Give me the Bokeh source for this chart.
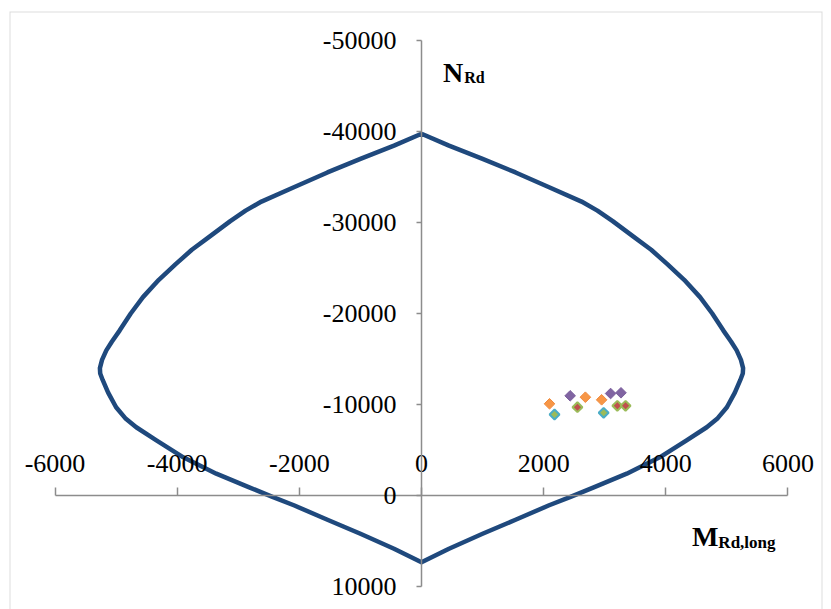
from bokeh.plotting import figure
from bokeh.models import Range1d, FixedTicker, Label, BoxAnnotation
from bokeh.embed import file_html
from bokeh.resources import INLINE
import numpy as np

# Interaction envelope (M_Rd,long, N_Rd), closed loop
env_m = [0, 450, 1000, 1540, 2080, 2620, 2880, 3130, 3470, 3760, 4020, 4300, 4560, 4760, 4940, 5070, 5160,
         5230, 5265, 5260, 5220, 5130, 5000, 4850, 4670, 4340, 3900, 3360, 2820, 2440, 2080, 1540,
         1000, 450, 0,
         -450, -1000, -1540, -2080, -2440, -2820, -3360, -3900, -4340, -4670, -4850, -5000, -5130,
         -5220, -5260, -5265, -5230, -5160, -5070, -4940, -4760, -4560, -4300, -4020, -3760, -3470,
         -3130, -2880, -2620, -2080, -1540, -1000, -450, 0]
env_n = [-39750, -38450, -37000, -35500, -33900, -32300, -31300, -30150, -28450, -27000, -25450, -23700, -21800,
         -20000, -18150, -16900, -15950, -14900, -14000, -13400, -12700, -11300, -9700, -8500, -7500,
         -6050, -4200, -2400, -900, 150, 1100, 2670, 4200, 5850, 7330,
         5850, 4200, 2670, 1100, 150, -900, -2400, -4200, -6050, -7500, -8500, -9700, -11300,
         -12700, -13400, -14000, -14900, -15950, -16900, -18150, -20000, -21800, -23700, -25450,
         -27000, -28450, -30150, -31300, -32300, -33900, -35500, -37000, -38450, -39750]

# Load points
orange_m = [2096, 2683, 2949]
orange_n = [-10077, -10802, -10516]
purple_m = [2434, 3096, 3266]
purple_n = [-10956, -11209, -11286]
aqua_m = [2178, 2982]
aqua_n = [-8901, -9088]
green_m = [2553, 3206, 3341]
green_n = [-9703, -9857, -9857]

x_ticks = [-6000, -4000, -2000, 0, 2000, 4000, 6000]
x_labels = ["-6000", "-4000", "-2000", "0", "2000", "4000", "6000"]
y_ticks = [-50000, -40000, -30000, -20000, -10000, 0, 10000]
y_labels = ["-50000", "-40000", "-30000", "-20000", "-10000", "0", "10000"]

p = figure(width=823, height=609, output_backend="svg", toolbar_location=None,
           x_range=Range1d(-6745, 6565), y_range=Range1d(12527, -53187),
           x_axis_location="above", y_axis_location="left",
           min_border_left=9, min_border_right=1, min_border_top=11, min_border_bottom=0)
p.grid.visible = False
p.outline_line_color = None
p.background_fill_color = "white"
p.border_fill_color = "white"

# chart border (top, left, right; bottom edge lies below the visible page)
p.add_layout(BoxAnnotation(left=-6745, right=6565, top=-53187, bottom=16000,
                           fill_color=None, line_color="#8c8c8c", line_width=2))

axis_col = "#8c8c8c"
font = "Liberation Serif"
for ax in (p.xaxis[0], p.yaxis[0]):
    ax.fixed_location = 0
    ax.axis_line_color = axis_col
    ax.axis_line_width = 1.5
    ax.major_tick_line_color = axis_col
    ax.major_tick_line_width = 1.5
    ax.minor_tick_line_color = None
    ax.major_tick_in = 0
    ax.major_label_text_font = font
    ax.major_label_text_font_size = "26px"
    ax.major_label_text_color = "black"

p.xaxis[0].ticker = FixedTicker(ticks=x_ticks)
p.xaxis[0].bounds = (x_ticks[0], x_ticks[-1])
p.xaxis[0].major_label_overrides = dict(zip(x_ticks, x_labels))
p.xaxis[0].major_tick_out = 8
p.xaxis[0].major_label_standoff = 16
p.yaxis[0].ticker = FixedTicker(ticks=y_ticks)
p.yaxis[0].bounds = (y_ticks[0], y_ticks[-1])
p.yaxis[0].major_label_overrides = dict(zip(y_ticks, y_labels))
p.yaxis[0].major_tick_out = 5
p.yaxis[0].major_label_standoff = 20

p.line(env_m, env_n, line_color="#1F497D", line_width=4.5, line_join="round")

ang = np.pi / 4
p.scatter(orange_m, orange_n, marker="square", size=7.5, angle=ang,
          fill_color="#F79646", line_color="#F08A3C", line_width=1)
p.scatter(purple_m, purple_n, marker="square", size=7.5, angle=ang,
          fill_color="#8064A2", line_color="#7A5E9C", line_width=1)
p.scatter(aqua_m, aqua_n, marker="square", size=7, angle=ang,
          fill_color="#9BBB59", line_color="#4BACC6", line_width=2)
p.scatter(green_m, green_n, marker="square", size=7, angle=ang,
          fill_color="#C0504D", line_color="#9BBB59", line_width=2)

p.add_layout(Label(x=351, y=-46484, text="N", text_font=font, text_font_size="28px",
                   text_font_style="bold", text_baseline="alphabetic", text_color="black"))
p.add_layout(Label(x=700, y=-45934, text="Rd", text_font=font, text_font_size="16px",
                   text_font_style="bold", text_baseline="alphabetic", text_color="black"))
p.add_layout(Label(x=4429, y=4505, text="M", text_font=font, text_font_size="28px",
                   text_font_style="bold", text_baseline="alphabetic", text_color="black"))
p.add_layout(Label(x=4860, y=5110, text="Rd,long", text_font=font, text_font_size="17px",
                   text_font_style="bold", text_baseline="alphabetic", text_color="black"))

open("out.html", "w").write(file_html(p, INLINE))
